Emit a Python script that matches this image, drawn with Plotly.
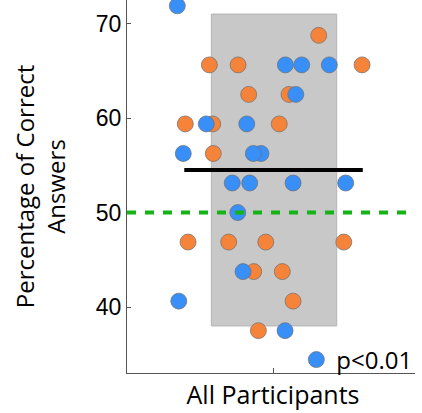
import plotly.graph_objects as go

# ---- data ----
category = "All Participants"
orange_x = [0.315, -0.439, -0.241, 0.614, -0.168, 0.110, -0.605, -0.416, 0.043,
            -0.412, -0.586, -0.306, -0.050, 0.488, -0.133, 0.064, 0.138, -0.101]
orange_y = [68.75, 65.625, 65.625, 65.625, 62.5, 62.5, 59.375, 59.375, 59.375,
            56.25, 46.875, 46.875, 46.875, 46.875, 43.75, 43.75, 40.625, 37.5]
blue_x = [-0.660, 0.085, 0.198, 0.388, 0.157, -0.460, -0.181, -0.619, -0.083,
          -0.136, -0.281, -0.161, 0.138, 0.501, -0.243, -0.207, -0.650, 0.083]
blue_y = [71.875, 65.625, 65.625, 65.625, 62.5, 59.375, 59.375, 56.25, 56.25,
          56.25, 53.125, 53.125, 53.125, 53.125, 50.0, 43.75, 40.625, 37.5]
mean_value = 54.5
band_low, band_high = 38.0, 71.0
chance_level = 50.0
y_ticks = [40, 50, 60, 70]
legend_label = "p<0.01"

ORANGE = "#f5833a"
BLUE = "#388ff7"
FONT = "Open Sans"

fig = go.Figure()

fig.add_trace(go.Scatter(
    x=orange_x, y=orange_y, mode="markers", showlegend=False, cliponaxis=False,
    marker=dict(size=16, color=ORANGE, line=dict(width=0.7, color="#6e6e6e")),
))
fig.add_trace(go.Scatter(
    x=blue_x, y=blue_y, mode="markers", name=legend_label, cliponaxis=False,
    marker=dict(size=16, color=BLUE, line=dict(width=0.7, color="#6e6e6e")),
))

# gray band
fig.add_shape(type="rect", x0=-0.4255, x1=0.439, y0=band_low, y1=band_high,
              xref="x", yref="y", layer="below",
              fillcolor="#c8c8c8", line=dict(color="#b4b4b4", width=1))
# mean line
fig.add_shape(type="line", x0=-0.612, x1=0.619, y0=mean_value, y1=mean_value,
              xref="x", yref="y", layer="above",
              line=dict(color="black", width=4))
# chance line
fig.add_shape(type="line", x0=0, x1=1, y0=chance_level, y1=chance_level,
              xref="paper", yref="y", layer="above",
              line=dict(color="#16b316", width=4, dash="9px,9px"))

fig.update_layout(
    width=422, height=413,
    margin=dict(l=127, r=7, t=0, b=40),
    paper_bgcolor="white", plot_bgcolor="white",
    font=dict(family=FONT, color="black"),
    showlegend=True,
    legend=dict(x=0.588, y=0.035, xanchor="left", yanchor="middle",
                bgcolor="rgba(0,0,0,0)", font=dict(size=24, family=FONT)),
)
fig.update_xaxes(
    range=[-1.007, 0.979], tickvals=[0], ticktext=[category],
    ticks="inside", ticklen=5, tickcolor="#555555",
    showline=True, linecolor="#555555", linewidth=1,
    showgrid=False, zeroline=False, automargin=False,
    tickfont=dict(size=25, family=FONT),
)
fig.update_yaxes(
    range=[33.02, 72.49], tickvals=y_ticks,
    ticks="inside", ticklen=4, tickcolor="#555555",
    showline=True, linecolor="#555555", linewidth=1,
    showgrid=False, zeroline=False, automargin=False,
    tickfont=dict(size=23, family="Liberation Sans"),
    title=dict(text="Percentage of Correct<br>Answers", standoff=23,
               font=dict(size=24, family=FONT)),
)

fig.write_html("out.html",
               config={"displayModeBar": False},
               post_script="document.body.style.margin='0';document.body.style.overflow='hidden';")
